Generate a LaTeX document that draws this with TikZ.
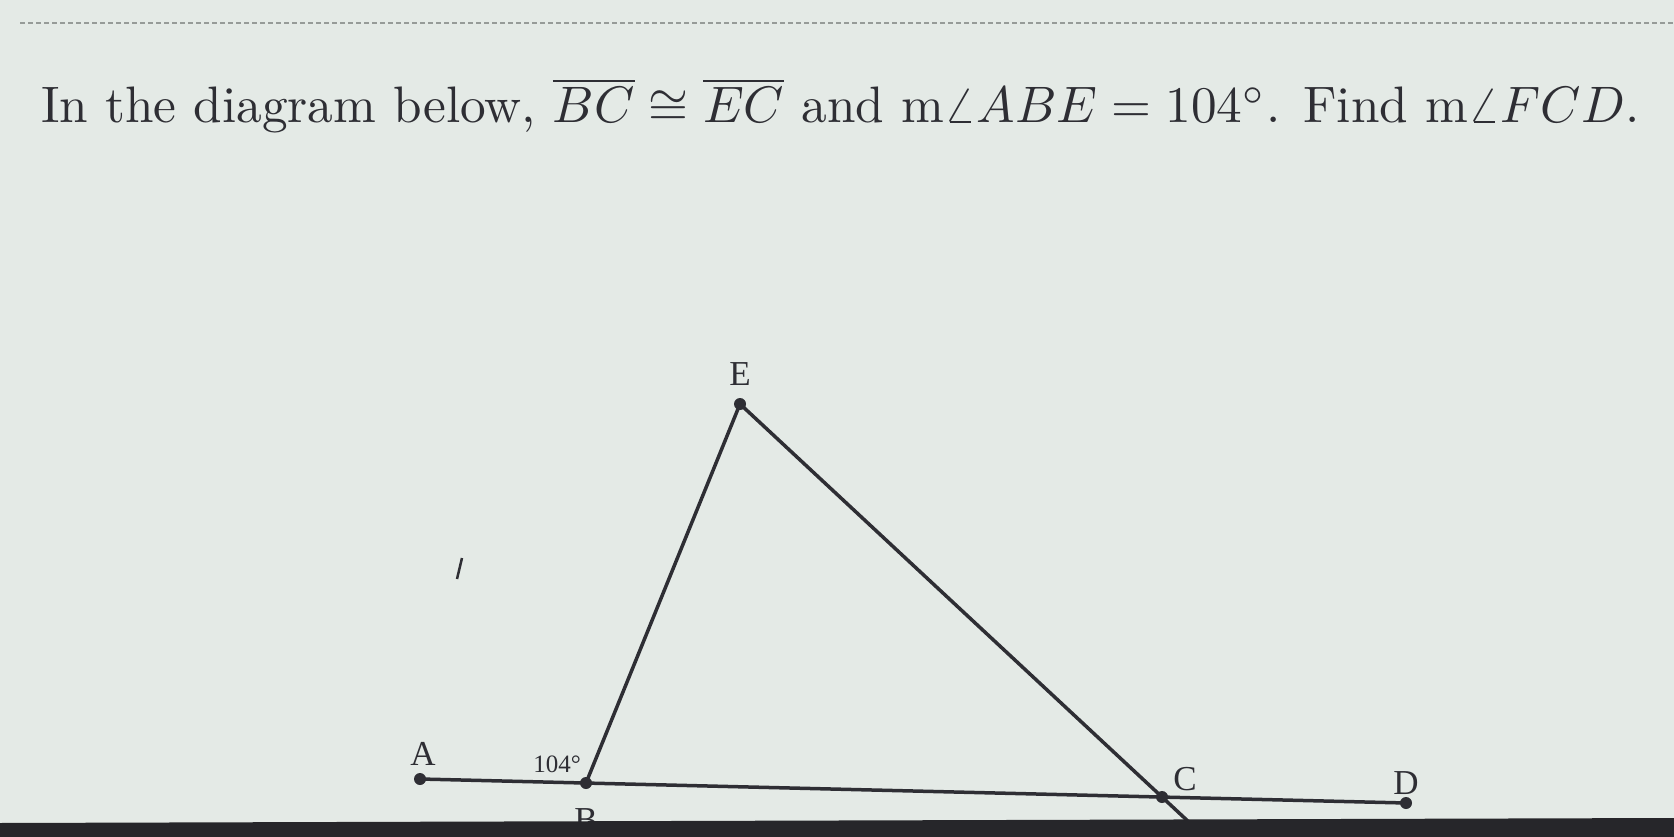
\documentclass[tikz,border=0pt]{standalone}
\usepackage{fontspec}
\usepackage{graphicx}
\usetikzlibrary{calc}
\newfontfamily\lblfont{Liberation Serif}
\definecolor{bg}{RGB}{228,234,230}
\definecolor{ink}{RGB}{46,46,52}
\definecolor{bezel}{RGB}{38,38,42}
\definecolor{dashc}{RGB}{150,155,152}
\tikzset{
  dotnode/.style={circle,fill=ink,inner sep=0pt,minimum size=12pt},
  segline/.style={draw=ink,line width=3.5pt},
  ptlabel/.style={text=ink,font=\lblfont\fontsize{35}{40}\selectfont,inner sep=0pt},
  anglabel/.style={text=ink,font=\lblfont\fontsize{25}{30}\selectfont,inner sep=0pt},
  toprule/.style={draw=dashc,line width=1.5pt,dash pattern=on 5pt off 3pt}
}
\begin{document}
\begin{tikzpicture}[x=1pt,y=-1pt]
\useasboundingbox (0,0) rectangle (1674,837);
\fill[bg] (0,0) rectangle (1674,837);
\draw[toprule] (20,23) -- (1674,23);
\node[anchor=base west,inner sep=0pt,text=ink] (title) at (41,123)
  {\resizebox{1598pt}{!}{In the diagram below, $\overline{BC}\cong\overline{EC}$ and m$\angle ABE=104^\circ$. Find m$\angle FCD$.}};
% points
\coordinate (A) at (420,779);
\coordinate (B) at (586,783);
\coordinate (C) at (1162,797);
\coordinate (D) at (1406,803);
\coordinate (E) at (740,404);
\coordinate (F) at ($(E)!1.08!(C)$);
\coordinate (m1) at (462,558);
\coordinate (m2) at (457,579);
% segments
\draw[segline] (A) -- (D);
\draw[segline] (B) -- (E);
\draw[segline] (E) -- (F);
\draw[ink,line width=2.5pt] (m1) -- (m2);
% dots
\node[dotnode] (dA) at (A) {};
\node[dotnode] (dB) at (B) {};
\node[dotnode] (dC) at (C) {};
\node[dotnode] (dD) at (D) {};
\node[dotnode] (dE) at (E) {};
% labels
\node[ptlabel] (lA) at (423,754) {A};
\node[ptlabel] (lB) at (586,820) {B};
\node[ptlabel] (lC) at (1185,779) {C};
\node[ptlabel] (lD) at (1406,783) {D};
\node[ptlabel] (lE) at (740,374) {E};
\node[anglabel] (l104) at (557,764) {104°};
% bezel
\fill[bezel] (0,823) -- (1674,818) -- (1674,837) -- (0,837) -- cycle;
\end{tikzpicture}
\end{document}
